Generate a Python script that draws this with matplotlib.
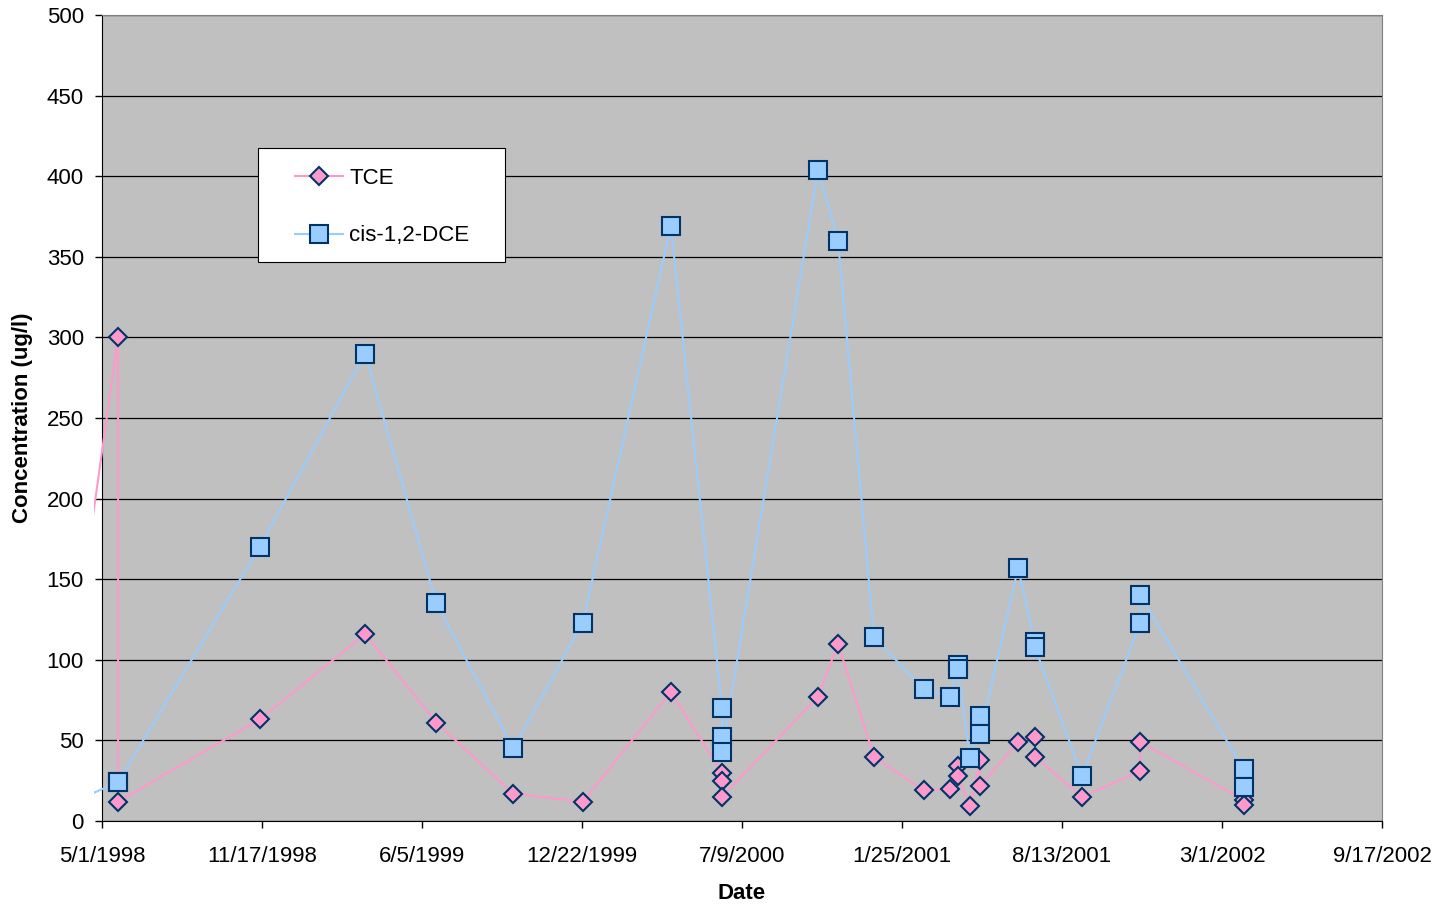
import pandas as pd
import matplotlib
matplotlib.use("Agg")
import matplotlib.pyplot as plt
from matplotlib.patches import Rectangle
from matplotlib.transforms import Bbox, TransformedBbox

plt.rcParams['font.family'] = ['Liberation Sans', 'DejaVu Sans']

# sampling dates (repeated dates = several samples on one day)
dates = ["3/12/1998", "5/21/1998", "5/21/1998", "11/14/1998", "3/26/1999",
         "6/23/1999", "9/27/1999", "12/23/1999", "4/11/2000",
         "6/14/2000", "6/14/2000", "6/14/2000", "10/12/2000", "11/6/2000",
         "12/21/2000", "2/21/2001", "3/26/2001", "4/5/2001", "4/5/2001",
         "4/20/2001", "5/3/2001", "5/3/2001", "6/19/2001", "7/10/2001",
         "7/10/2001", "9/7/2001", "11/19/2001", "11/19/2001",
         "3/28/2002", "3/28/2002"]
tce = [52, 300, 12, 63, 116, 61, 17, 12, 80,
       30, 25, 15, 77, 110, 40, 19, 20, 34, 28,
       9, 38, 22, 49, 52, 40, 15, 31, 49, 13, 10]
dce = [9, 24, 24, 170, 290, 135, 45, 123, 369,
       70, 52, 43, 404, 360, 114, 82, 77, 97, 94,
       39, 65, 54, 157, 111, 108, 28, 123, 140, 32, 21]

x = pd.to_datetime(dates, format="%m/%d/%Y")
ticks = pd.date_range("1998-05-01", periods=9, freq="200D")

fig = plt.figure(figsize=(14.39, 9.06), dpi=100)
ax = fig.add_axes([102 / 1439, 1 - 821 / 906, 1280 / 1439, 806 / 906])
ax.set_facecolor("#C0C0C0")

l1, = ax.plot(x, tce, color="#FF99CC", lw=1.5, marker="D", ms=9.5,
              mfc="#FF99CC", mec="#003366", mew=1.5, label="TCE", zorder=3)
l2, = ax.plot(x, dce, color="#99CCFF", lw=1.5, marker="s", ms=13,
              mfc="#99CCFF", mec="#003366", mew=1.5, label="cis-1,2-DCE", zorder=3)

# lines run a little past the left edge of the plot area
clip = TransformedBbox(Bbox([[-0.0066, 0], [1, 1]]), ax.transAxes)
for ln in (l1, l2):
    ln.set_clip_box(clip)

ax.set_xlim(ticks[0], ticks[-1])
ax.set_ylim(0, 500)
ax.set_yticks(range(0, 501, 50))
ax.set_xticks(ticks)
ax.set_xticklabels([f"{d.month}/{d.day}/{d.year}" for d in ticks])
ax.yaxis.grid(True, color="black", lw=0.9)
ax.set_axisbelow(True)
ax.tick_params(labelsize=16, length=5, width=1, color="black")
ax.tick_params(axis="x", pad=13)
ax.tick_params(axis="y", pad=8)
for s in ("top", "right"):
    ax.spines[s].set_color("#808080")
for s in ("left", "bottom"):
    ax.spines[s].set_color("black")

ax.set_xlabel("Date", fontsize=16, fontweight="bold", labelpad=11.5)
ax.set_ylabel("Concentration (ug/l)", fontsize=16, fontweight="bold", labelpad=10)

ax.add_patch(Rectangle((156 / 1280, (821 - 262) / 806), 247 / 1280, 114 / 806,
                       transform=ax.transAxes, fc="white", ec="black", lw=0.8, zorder=4))
leg = ax.legend(loc="upper left", bbox_to_anchor=((295 - 102) / 1280, (821 - 168) / 806),
                frameon=False, fontsize=16, borderpad=0, borderaxespad=0,
                handlelength=2.16, handletextpad=0.27, labelspacing=1.64)
leg.set_zorder(5)

fig.savefig("out.png", dpi=100)
